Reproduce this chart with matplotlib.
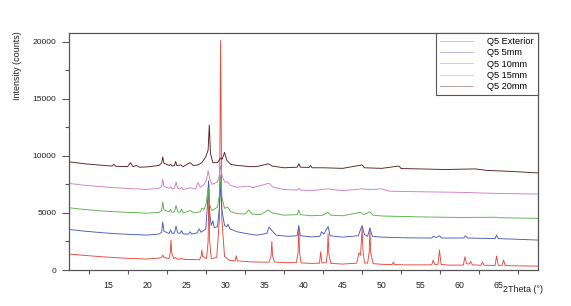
import matplotlib
matplotlib.use("Agg")
import matplotlib.pyplot as plt
from matplotlib.ticker import MultipleLocator, FixedLocator

plt.rcParams['font.family'] = ['Liberation Sans', 'DejaVu Sans']

# ---- data (2Theta in degrees, intensity in counts) ----
x_ext = [10,12,14,16,18,20,21.5,21.85,22.0,22.15,22.8,22.95,23.05,23.15,23.4,23.6,23.8,24.2,24.4,24.6,25.5,26.7,26.9,27.0,27.1,27.6,27.8,27.9,28.0,28.2,28.9,29.25,29.4,29.55,29.9,30.5,31.25,31.4,31.55,33,35.6,35.85,35.95,36.05,36.3,37.5,39.1,39.3,39.4,39.5,39.7,41,42.05,42.2,42.35,42.9,43.05,43.15,43.25,43.5,45,46.8,47.1,47.3,47.5,47.6,47.8,48.2,48.4,48.5,48.6,48.9,50,51.35,51.5,51.65,53,56.4,56.6,56.8,57.2,57.4,57.6,58.5,60.45,60.65,60.85,61.2,61.4,61.6,62.7,62.9,63.1,64.5,64.7,64.9,65.4,65.6,65.8,67,70]
y_ext = [1400,1280,1170,1080,1010,960,1050,1100,1300,1100,1000,1500,2620,1500,1000,1100,960,950,1050,940,920,900,1200,1750,1200,1000,2500,7500,2500,1000,1100,4500,20100,4500,1200,850,800,1250,800,720,680,1200,2500,1200,700,640,650,1500,3700,1500,620,580,600,1600,620,650,1400,3200,1400,580,520,600,1500,1300,3700,1800,620,600,1500,3500,1500,560,500,480,700,480,450,450,870,480,500,1750,500,430,430,1160,550,520,750,450,420,700,420,400,1220,420,400,870,390,370,340]

x_5 = [10,12,14,16,18,20,21.5,21.85,22.0,22.15,22.8,23.0,23.2,23.5,23.7,23.9,24.2,24.4,24.6,25.3,25.5,25.7,26.4,26.65,26.9,27.5,27.7,27.85,28.0,28.2,28.4,28.6,29.0,29.25,29.4,29.55,29.9,30.2,30.35,30.6,31.5,33,34,35.3,35.6,35.9,36.5,38,39.2,39.4,39.6,41,42.1,42.3,42.6,43.15,43.4,45,47.0,47.5,47.8,48.2,48.5,48.8,50,53,56.4,56.6,57.0,57.4,57.7,60.5,60.7,61.0,64.5,64.7,64.9,67,70]
y_5 = [3550,3400,3280,3180,3110,3060,3150,3300,4200,3400,3200,3500,3200,3250,3850,3250,3200,3450,3150,3150,3350,3150,3250,3600,3300,3600,5500,7800,5000,3900,4300,3700,3800,5500,7600,5300,3900,3800,4000,3600,3350,3150,3050,3200,3750,3500,3050,2950,3000,3900,3000,2900,2950,3350,3150,3800,3000,2880,3000,3900,3100,2950,3700,2950,2880,2820,2800,2950,2850,3000,2800,2800,3000,2800,2750,3050,2750,2700,2620]

x_10 = [10,12,14,16,18,20,21.5,21.85,22.0,22.15,22.8,23.0,23.2,23.5,23.7,23.9,24.2,24.4,24.6,25.5,26.0,26.8,27.0,27.3,27.55,27.8,28.0,28.3,29.0,29.25,29.4,29.55,29.9,30.3,30.7,31.5,32.5,33.0,33.4,34.5,35.5,36.0,37.5,39.2,39.4,39.6,41,42.5,43.1,43.5,45,47.3,47.7,48.5,48.9,50,55,60,64.7,65,70]
y_10 = [5450,5300,5180,5100,5030,4980,5050,5200,5950,5250,5100,5300,5050,5100,5650,5100,5050,5350,5000,5200,5000,5100,5400,5300,5800,7200,5700,5200,5500,6600,8300,6400,5400,5500,5100,4950,4900,5250,4900,4850,5250,5000,4800,4850,5250,4850,4750,4800,5050,4800,4750,5050,4850,5100,4800,4730,4650,4600,4620,4580,4520]

x_15 = [10,12,14,16,18,20,21.5,21.85,22.0,22.15,22.8,23.0,23.2,23.5,23.7,23.9,24.2,24.4,24.6,25.5,26.2,26.5,26.8,27.3,27.6,27.8,28.0,28.3,29.0,29.25,29.4,29.6,29.9,30.3,30.7,31.5,33.0,33.5,35.6,36.1,37.5,39.2,39.4,39.6,41,43.1,45,47.5,48.5,50,51,55,60,65,70]
y_15 = [7580,7420,7300,7200,7120,7060,7150,7300,7950,7300,7150,7300,7100,7150,7700,7150,7100,7250,7050,7200,7100,7650,7250,7500,7900,8700,8000,7500,7700,8300,9100,8200,7700,7700,7400,7250,7350,7200,7600,7250,7050,7000,7150,7000,6950,7100,6950,7100,7050,7100,6900,6850,6800,6700,6650]

x_20 = [10,12,14,15.5,15.75,16.0,17.5,17.85,18.2,18.6,19,20,21.5,21.85,22.0,22.15,22.8,23.0,23.2,23.5,23.65,23.8,24.3,24.6,25.5,25.9,26.5,27.0,27.5,27.8,27.95,28.1,28.4,29.0,29.4,29.6,29.9,30.2,30.7,31.5,32.5,33,34,35.5,36,37.5,39.2,39.4,39.6,40.7,40.9,41.1,42.5,45,47.5,47.8,50,52.2,52.5,55,58,62,63.5,66,70]
y_20 = [9470,9300,9180,9100,9250,9080,9050,9400,9050,9150,9000,9030,9150,9350,9900,9350,9150,9250,9100,9150,9500,9150,9200,9050,9400,9150,9200,9400,9900,10500,12700,10200,9400,9400,9800,9700,10300,9600,9250,9150,9100,9050,9050,9300,9100,8950,9000,9300,9000,8980,9150,8950,8950,8900,9200,8950,8900,9100,8880,8850,8800,8850,8720,8650,8500]

series_names = ["Q5 Exterior", "Q5 5mm", "Q5 10mm", "Q5 15mm", "Q5 20mm"]
series_x = [x_ext, x_5, x_10, x_15, x_20]
series_y = [y_ext, y_5, y_10, y_15, y_20]
series_colors = ["#e8473c", "#4a5bb3", "#56b24a", "#d27ccb", "#5c1e1e"]

x_major = [15, 20, 25, 30, 35, 40, 45, 50, 55, 60, 65]
x_minor = [12.5, 17.5, 22.5, 27.5, 32.5, 37.5, 42.5, 47.5, 52.5, 57.5, 62.5, 67.5]
y_major = [0, 5000, 10000, 15000, 20000]

fig = plt.figure(figsize=(5.71, 3.06), dpi=100)
ax = fig.add_axes([0.1208, 0.1176, 0.8214, 0.7746])

for xs, ys, c, n in zip(series_x, series_y, series_colors, series_names):
    ax.plot(xs, ys, color=c, lw=0.65, label=n)

ax.set_xlim(10, 70)
ax.set_ylim(0, 20750)

ax.xaxis.set_major_locator(FixedLocator(x_major))
ax.xaxis.set_minor_locator(FixedLocator(x_minor))
ax.yaxis.set_major_locator(FixedLocator(y_major))
ax.yaxis.set_minor_locator(MultipleLocator(2500))

spine_col = "#555555"
for s in ax.spines.values():
    s.set_color(spine_col)
    s.set_linewidth(0.9)

ax.tick_params(axis='x', which='major', length=0, pad=8, labelsize=6.3, colors='#222222')
ax.tick_params(axis='x', which='minor', length=3, width=0.8, color=spine_col, direction='out')
ax.tick_params(axis='y', which='major', length=5, width=0.8, pad=4, labelsize=6.1, colors='#222222')
ax.tick_params(axis='y', which='major', color=spine_col)
ax.tick_params(axis='y', which='minor', length=3, width=0.8, color=spine_col)

fig.text(18/571, 1 - 66/306, "Intensity (counts)", rotation=90, ha='center', va='center',
         fontsize=6.5, color='#222222')
fig.text(523/571, 1 - 290/306, "2Theta (°)", ha='center', va='center',
         fontsize=6.5, color='#222222')

leg = ax.legend(loc='upper right', fontsize=6.6, frameon=True, fancybox=False,
                borderaxespad=0, borderpad=0.45, handlelength=3.6, handletextpad=1.5,
                labelspacing=0.25, framealpha=1)
leg.get_frame().set_edgecolor(spine_col)
leg.get_frame().set_linewidth(0.8)
for line in leg.get_lines():
    line.set_alpha(0.45)

fig.savefig("out.png", dpi=100)
